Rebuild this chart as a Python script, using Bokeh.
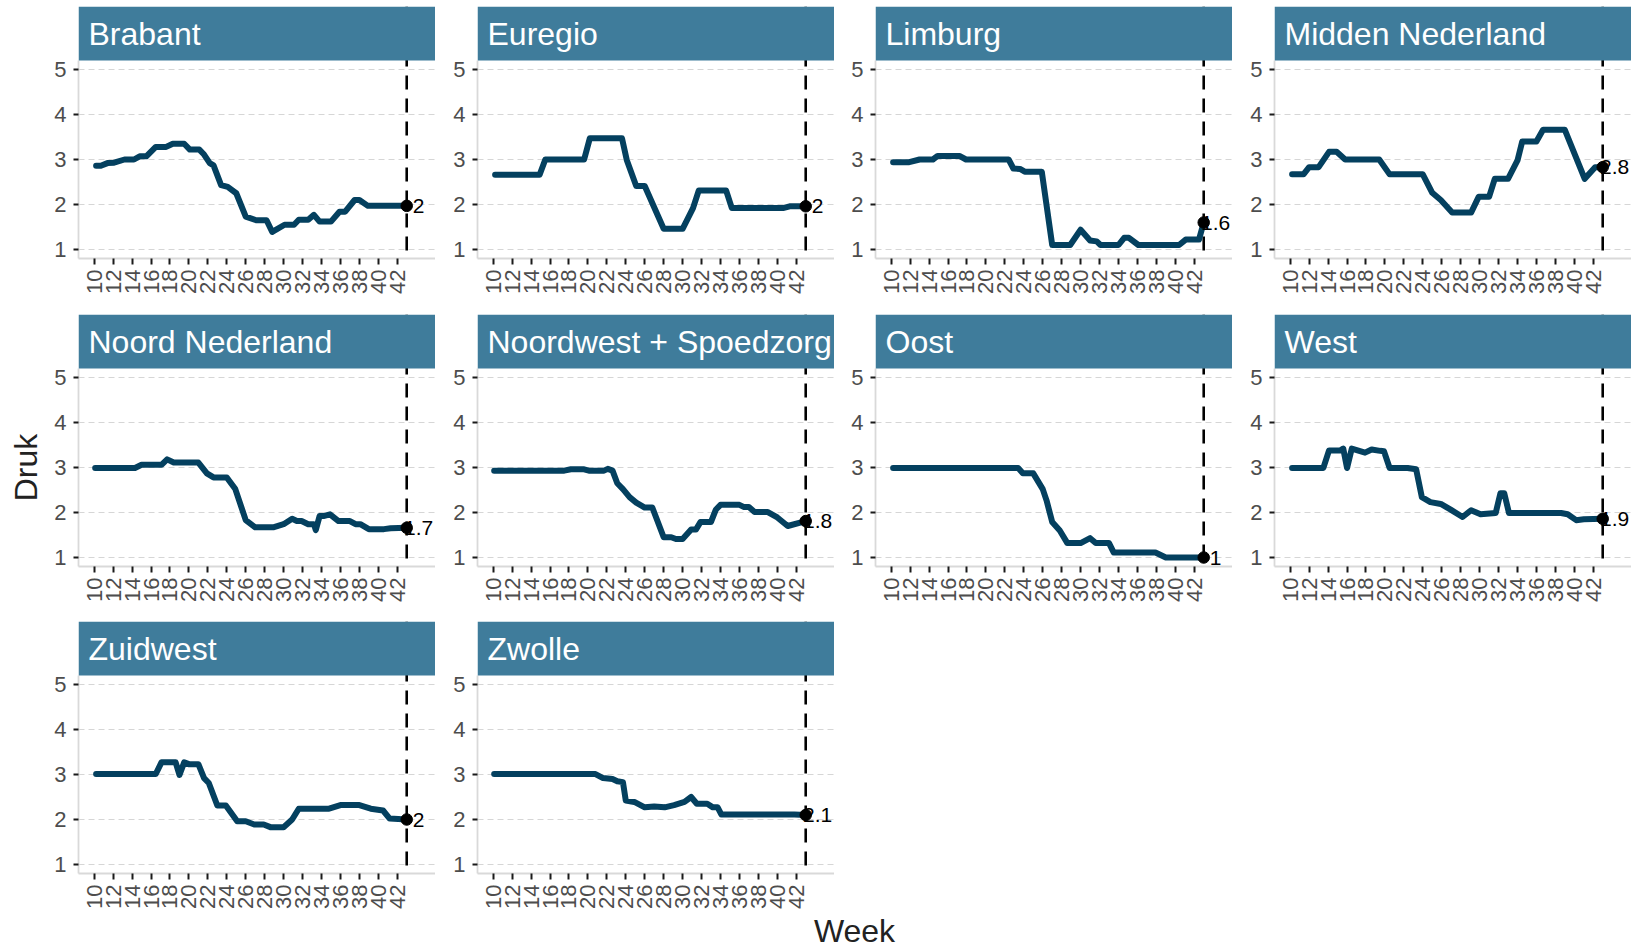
import math
from bokeh.plotting import figure
from bokeh.models import Range1d, Span, Label, FixedTicker, BoxAnnotation
from bokeh.layouts import column, row
from bokeh.embed import file_html
from bokeh.resources import INLINE
from bokeh.core.properties import value

# ---------------- data ----------------
REGIONS = ["Brabant", "Euregio", "Limburg", "Midden Nederland", "Noord Nederland",
           "Noordwest + Spoedzorg", "Oost", "West", "Zuidwest", "Zwolle"]

BRABANT_WEEK = [10.2, 10.7, 11.4, 12.1, 13.2, 14.2, 14.8, 15.5, 16.5, 17.6, 18.3, 19.5, 20.1, 21.1, 21.6, 22.2,
                22.6, 23.4, 24.1, 25.0, 26.0, 27.1, 28.2, 28.8, 30.1, 31.1, 31.6, 32.6, 33.2, 33.8, 35.0, 35.9,
                36.5, 37.5, 38.0, 38.9, 43.0]
BRABANT_DRUK = [2.86, 2.86, 2.92, 2.93, 3.0, 3.0, 3.07, 3.07, 3.28, 3.28, 3.35, 3.35, 3.22, 3.22, 3.11, 2.92,
                2.87, 2.43, 2.39, 2.25, 1.73, 1.65, 1.65, 1.39, 1.55, 1.55, 1.66, 1.66, 1.77, 1.62, 1.62, 1.84,
                1.84, 2.10, 2.10, 1.97, 1.97]

EUREGIO_WEEK = [10.2, 14.9, 15.5, 19.6, 20.2, 23.6, 24.1, 25.1, 26.0, 28.0, 30.0, 31.1, 31.7, 34.6, 35.2, 40.6,
                41.3, 43.0]
EUREGIO_DRUK = [2.66, 2.66, 3.0, 3.0, 3.47, 3.47, 2.99, 2.41, 2.41, 1.46, 1.46, 1.92, 2.31, 2.31, 1.92, 1.92,
                1.96, 1.96]

LIMBURG_WEEK = [10.2, 11.9, 13.0, 14.4, 14.9, 17.2, 17.9, 22.4, 22.9, 23.6, 24.1, 25.9, 27.0, 28.9, 30.0, 31.0,
                31.7, 32.1, 34.0, 34.6, 35.1, 36.1, 40.4, 41.1, 42.5, 43.0]
LIMBURG_DRUK = [2.94, 2.94, 3.0, 3.0, 3.08, 3.08, 3.0, 3.0, 2.80, 2.79, 2.73, 2.73, 1.10, 1.10, 1.44, 1.20,
                1.18, 1.10, 1.10, 1.26, 1.26, 1.10, 1.10, 1.22, 1.22, 1.60]

MIDDEN_WEEK = [10.2, 11.4, 12.0, 13.0, 14.1, 14.9, 15.8, 19.4, 20.5, 24.0, 25.0, 25.9, 27.1, 29.1, 29.9, 31.0,
               31.6, 33.0, 34.0, 34.5, 36.0, 36.7, 39.0, 41.1, 42.2, 43.0]
MIDDEN_DRUK = [2.67, 2.67, 2.83, 2.83, 3.17, 3.17, 3.0, 3.0, 2.67, 2.67, 2.26, 2.10, 1.82, 1.82, 2.17, 2.17,
               2.57, 2.57, 2.98, 3.40, 3.40, 3.66, 3.66, 2.57, 2.83, 2.83]

NOORD_WEEK = [10.1, 14.3, 15.0, 17.1, 17.7, 18.4, 21.0, 21.9, 22.6, 24.0, 24.9, 26.0, 27.0, 28.9, 30.0, 30.9,
              31.4, 31.9, 32.6, 33.2, 33.4, 33.8, 34.2, 34.9, 35.8, 37.0, 37.6, 38.1, 39.0, 40.6, 41.3, 43.0]
NOORD_DRUK = [2.99, 2.99, 3.06, 3.06, 3.18, 3.11, 3.11, 2.87, 2.78, 2.78, 2.52, 1.83, 1.67, 1.67, 1.74, 1.86,
              1.81, 1.81, 1.74, 1.74, 1.61, 1.92, 1.92, 1.96, 1.81, 1.81, 1.74, 1.74, 1.63, 1.63, 1.65, 1.66]

NOORDWEST_WEEK = [10.1, 17.5, 18.2, 19.6, 20.1, 21.7, 22.1, 22.6, 23.1, 23.7, 24.4, 25.1, 26.0, 26.8, 28.0, 28.8,
                  29.3, 30.0, 30.9, 31.4, 31.9, 33.0, 33.5, 34.0, 36.0, 36.5, 37.0, 37.6, 39.0, 40.0, 41.1, 43.0]
NOORDWEST_DRUK = [2.93, 2.93, 2.96, 2.96, 2.93, 2.93, 2.97, 2.93, 2.65, 2.52, 2.34, 2.22, 2.11, 2.11, 1.45, 1.45,
                  1.41, 1.41, 1.62, 1.62, 1.79, 1.79, 2.06, 2.17, 2.17, 2.12, 2.12, 2.01, 2.01, 1.89, 1.70, 1.81]

OOST_WEEK = [10.2, 23.4, 23.9, 25.0, 26.0, 26.4, 27.0, 27.8, 28.6, 30.0, 31.0, 31.6, 33.0, 33.5, 37.9, 39.0, 43.0]
OOST_DRUK = [2.99, 2.99, 2.87, 2.87, 2.52, 2.27, 1.79, 1.60, 1.32, 1.32, 1.43, 1.32, 1.32, 1.11, 1.11, 1.0, 1.0]

WEST_WEEK = [10.2, 13.5, 14.1, 15.3, 15.6, 16.0, 16.5, 17.9, 18.6, 19.5, 19.9, 20.5, 22.4, 23.3, 23.9, 24.8,
             25.9, 26.9, 28.2, 29.1, 30.1, 31.7, 32.2, 32.6, 33.1, 38.6, 39.3, 40.2, 41.0, 43.0]
WEST_DRUK = [2.99, 2.99, 3.38, 3.38, 3.42, 2.99, 3.42, 3.33, 3.40, 3.37, 3.36, 2.99, 2.99, 2.96, 2.34, 2.23,
             2.19, 2.07, 1.90, 2.05, 1.96, 1.99, 2.43, 2.43, 1.99, 1.99, 1.96, 1.83, 1.85, 1.86]

ZUIDWEST_WEEK = [10.2, 16.5, 17.1, 18.6, 19.0, 19.5, 20.0, 21.0, 21.6, 22.1, 23.0, 23.9, 25.1, 26.0, 26.9, 27.9,
                 28.6, 30.0, 30.9, 31.6, 34.8, 36.0, 38.0, 39.2, 40.5, 41.2, 43.0]
ZUIDWEST_DRUK = [3.01, 3.01, 3.27, 3.27, 2.99, 3.27, 3.23, 3.23, 2.92, 2.81, 2.31, 2.31, 1.96, 1.96, 1.89, 1.89,
                 1.83, 1.83, 2.00, 2.24, 2.24, 2.32, 2.32, 2.24, 2.20, 2.02, 2.00]

ZWOLLE_WEEK = [10.1, 20.8, 21.6, 22.6, 23.1, 23.7, 24.0, 24.9, 26.0, 27.0, 28.1, 29.1, 30.2, 30.9, 31.5, 32.6,
               33.2, 33.7, 34.1, 41.8, 43.0]
ZWOLLE_DRUK = [3.01, 3.01, 2.92, 2.90, 2.85, 2.83, 2.42, 2.39, 2.27, 2.29, 2.27, 2.32, 2.39, 2.50, 2.35, 2.35,
               2.27, 2.27, 2.11, 2.11, 2.10]

SERIES = {
    "Brabant": (BRABANT_WEEK, BRABANT_DRUK),
    "Euregio": (EUREGIO_WEEK, EUREGIO_DRUK),
    "Limburg": (LIMBURG_WEEK, LIMBURG_DRUK),
    "Midden Nederland": (MIDDEN_WEEK, MIDDEN_DRUK),
    "Noord Nederland": (NOORD_WEEK, NOORD_DRUK),
    "Noordwest + Spoedzorg": (NOORDWEST_WEEK, NOORDWEST_DRUK),
    "Oost": (OOST_WEEK, OOST_DRUK),
    "West": (WEST_WEEK, WEST_DRUK),
    "Zuidwest": (ZUIDWEST_WEEK, ZUIDWEST_DRUK),
    "Zwolle": (ZWOLLE_WEEK, ZWOLLE_DRUK),
}

X_TICKS = [10, 12, 14, 16, 18, 20, 22, 24, 26, 28, 30, 32, 34, 36, 38, 40, 42]
Y_TICKS = [1, 2, 3, 4, 5]
CURRENT_WEEK = 43
X_TITLE = "Week"
Y_TITLE = "Druk"

# ---------------- style / layout ----------------
FONT = "Liberation Sans"
STRIP_COLOR = "#3F7C9B"
LINE_COLOR = "#04405F"
GRID_COLOR = "#D6D6D6"
AXIS_COLOR = "#D9D9D9"
TICK_LABEL_COLOR = "#4D4D4D"

NCOL = 4
YTITLE_W = 46
LEFTS = [32, 42, 41, 42]          # left border of each column (frames at 78, 477, 875, 1274)
FRAME_W = 357
TOP_PAD = 6
STRIP_H = 54
FRAME_H = 198
BOTTOMS = [56, 55, 40]
WEEK_H = 36
LABEL_NUDGE = 1.25
X_LIM = (8.34, 46.04)
Y_LIM = (0.8, 5.2)
BASE_FIX = 0.36                   # empirical baseline correction (em) for Label text

X_PER_PX = (X_LIM[1] - X_LIM[0]) / FRAME_W
Y_PER_PX = (Y_LIM[1] - Y_LIM[0]) / FRAME_H
Y_TOP = Y_LIM[1] + STRIP_H * Y_PER_PX      # the facet strip sits above the data area


def fmt(v):
    r = round(v, 1)
    return str(int(r)) if r == int(r) else f"{r:.1f}"


def panel_fig(name, left, top, bottom):
    weeks, druk = SERIES[name]
    p = figure(width=left + FRAME_W, height=top + STRIP_H + FRAME_H + bottom,
               x_range=Range1d(*X_LIM), y_range=Range1d(Y_LIM[0], Y_TOP),
               output_backend="svg", toolbar_location=None,
               min_border_left=left, min_border_right=0, min_border_top=top, min_border_bottom=bottom)
    p.outline_line_color = None
    p.background_fill_color = "white"
    p.border_fill_color = "white"
    p.xgrid.visible = False
    p.ygrid.grid_line_color = GRID_COLOR
    p.ygrid.grid_line_dash = "6 4"
    p.ygrid.grid_line_width = 1.2
    p.xaxis.ticker = FixedTicker(ticks=X_TICKS)
    p.yaxis.ticker = FixedTicker(ticks=Y_TICKS)
    p.yaxis.bounds = Y_LIM
    p.axis.axis_line_color = AXIS_COLOR
    p.axis.axis_line_width = 1.8
    p.axis.major_tick_line_color = "#1A1A1A"
    p.axis.major_tick_line_width = 2
    p.axis.major_tick_in = 0
    p.xaxis.major_tick_out = 6
    p.yaxis.major_tick_out = 5
    p.axis.minor_tick_line_color = None
    p.axis.major_label_text_font = FONT
    p.axis.major_label_text_font_size = "22px"
    p.axis.major_label_text_color = TICK_LABEL_COLOR
    p.xaxis.major_label_orientation = math.pi / 2
    p.xaxis.major_label_standoff = 5
    p.yaxis.major_label_standoff = 7

    vline = Span(location=CURRENT_WEEK, dimension="height", line_color="black",
                 line_width=2.6, line_dash="14 9", level="underlay")
    p.add_layout(vline)

    p.line(x=weeks, y=druk, line_color=LINE_COLOR, line_width=6, line_join="round", line_cap="round")
    p.text(x=[weeks[-1] + LABEL_NUDGE], y=[druk[-1]], text=[fmt(druk[-1])], text_font=value(FONT),
           text_font_size="21px", text_color="black", text_align="center", text_baseline="middle")
    p.scatter(x=[weeks[-1]], y=[druk[-1]], size=11.5, fill_color="black", line_color="black")

    # facet strip
    p.add_layout(BoxAnnotation(bottom=Y_LIM[1], fill_color=STRIP_COLOR, fill_alpha=1.0,
                               line_color=None, level="annotation"))
    p.add_layout(Label(x=X_LIM[0] + 10 * X_PER_PX, y=Y_LIM[1] + (15 + BASE_FIX * 32) * Y_PER_PX,
                       text=name, text_color="white", text_font=FONT, text_font_size="32px",
                       text_baseline="alphabetic"))
    return p


rows = []
nrows = math.ceil(len(REGIONS) / NCOL)
for r in range(nrows):
    cells = []
    for c in range(NCOL):
        i = r * NCOL + c
        if i >= len(REGIONS):
            break
        top = TOP_PAD if r == 0 else 0
        cells.append(panel_fig(REGIONS[i], LEFTS[c], top, BOTTOMS[r]))
    rows.append(row(*cells, spacing=0))
grid = column(*rows, spacing=0)

GRID_H = TOP_PAD + sum(STRIP_H + FRAME_H + b for b in BOTTOMS[:nrows])
TOTAL_W = YTITLE_W + sum(LEFTS) + NCOL * FRAME_W

# y title "Druk", centred on the middle row's data area
druk_center_from_top = TOP_PAD + (STRIP_H + FRAME_H + BOTTOMS[0]) + STRIP_H + FRAME_H / 2
yt = figure(width=YTITLE_W, height=GRID_H, x_range=Range1d(0, YTITLE_W), y_range=Range1d(0, GRID_H),
            x_axis_type=None, y_axis_type=None, output_backend="svg", toolbar_location=None,
            min_border_left=0, min_border_right=0, min_border_top=0, min_border_bottom=0)
yt.grid.visible = False
yt.outline_line_color = None
yt.add_layout(Label(x=37 - BASE_FIX * 32, y=GRID_H - druk_center_from_top,
                    text=Y_TITLE, angle=math.pi / 2, text_align="center", text_baseline="alphabetic",
                    text_font=FONT, text_font_size="32px", text_color="#222222"))

wk = figure(width=TOTAL_W, height=WEEK_H, x_range=Range1d(0, TOTAL_W), y_range=Range1d(0, WEEK_H),
            x_axis_type=None, y_axis_type=None, output_backend="svg", toolbar_location=None,
            min_border_left=0, min_border_right=0, min_border_top=0, min_border_bottom=0)
wk.grid.visible = False
wk.outline_line_color = None
wk.add_layout(Label(x=854, y=7 + BASE_FIX * 32, text=X_TITLE, text_align="center", text_baseline="alphabetic",
                    text_font=FONT, text_font_size="32px", text_color="#222222"))

layout = column(row(yt, grid, spacing=0), wk, spacing=0)

open("out.html", "w").write(file_html(layout, INLINE))
